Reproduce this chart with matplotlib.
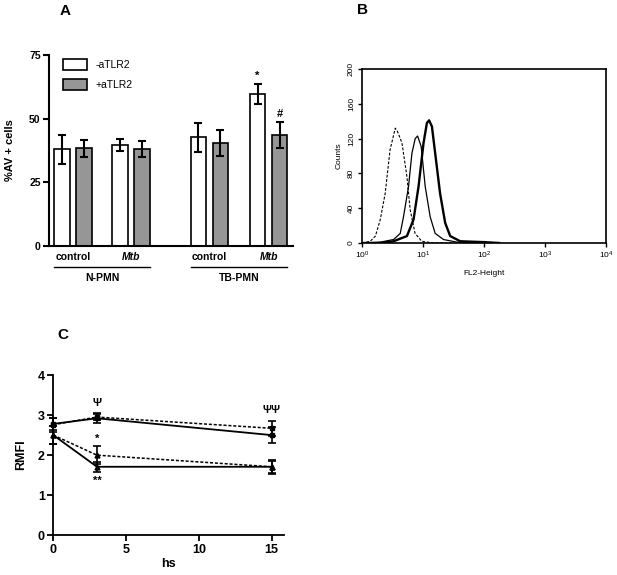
import numpy as np
import matplotlib
matplotlib.use("Agg")
import matplotlib.pyplot as plt
from matplotlib.patches import Rectangle
from matplotlib.ticker import FixedLocator, NullLocator

plt.rcParams['font.family'] = ['Liberation Sans', 'DejaVu Sans']
plt.rcParams['mathtext.fontset'] = 'custom'
plt.rcParams['mathtext.rm'] = 'Liberation Sans'
plt.rcParams['mathtext.it'] = 'Liberation Sans:italic'
plt.rcParams['mathtext.bf'] = 'Liberation Sans:bold'

# ---------------- data ----------------
# Panel A
groups = ["N-PMN", "TB-PMN"]
conditions = ["control", "Mtb", "control", "Mtb"]
series_labels = ["-aTLR2", "+aTLR2"]
minus_atlr2 = [38.0, 39.7, 42.7, 59.7]
minus_atlr2_err = [5.7, 2.3, 5.7, 4.1]
plus_atlr2 = [38.3, 38.2, 40.6, 43.5]
plus_atlr2_err = [3.2, 3.2, 5.1, 5.2]
sig_a = ["*", "#"]
sig_a_y = [67.0, 52.0]

# Panel B (log10 FL2-Height, counts)
dashed_log = [0.0, 0.136, 0.22, 0.30, 0.38, 0.46, 0.545, 0.583, 0.655, 0.737, 0.79, 0.87, 0.98, 1.17, 1.5]
dashed_cnt = [0, 2, 8, 27, 57, 107, 132, 128, 115, 76, 38, 11, 2, 0, 0]
thin_log = [0.0, 0.3, 0.518, 0.627, 0.68, 0.763, 0.818, 0.872, 0.911, 0.97, 1.036, 1.118, 1.2, 1.336, 1.555, 2.0]
thin_cnt = [0, 1, 4, 11, 30, 65, 103, 120, 123, 111, 65, 30, 11, 4, 1, 0]
thick_log = [0.0, 0.3, 0.518, 0.737, 0.845, 0.927, 1.009, 1.064, 1.10, 1.146, 1.2, 1.28, 1.364, 1.446, 1.61, 2.0, 2.25]
thick_cnt = [0, 0, 2, 8, 27, 65, 115, 138, 141, 134, 103, 57, 23, 8, 2, 1, 0]

# Panel C
hours = [0, 3, 15]
solid_sq = [2.78, 2.92, 2.50]
solid_sq_err = [0.15, 0.13, 0.19]
dash_sq = [2.76, 2.95, 2.67]
dash_sq_err = [0.17, 0.08, 0.19]
dash_tri = [2.50, 2.00, 1.71]
dash_tri_err = [0.23, 0.22, 0.15]
solid_tri = [2.50, 1.71, 1.71]
solid_tri_err = [0.23, 0.13, 0.17]
sig_c = ["Ψ", "ΨΨ", "*", "**"]
sig_c_x = [3, 15, 3, 3]
sig_c_y = [3.29, 3.12, 2.40, 1.36]

# ---------------- figure ----------------
W, H = 617, 575
fig = plt.figure(figsize=(W / 100, H / 100), dpi=100)


def rect(l, t, r, b):
    return [l / W, 1 - b / H, (r - l) / W, (b - t) / H]


def fx(px):
    return px / W


def fy(py):
    return 1 - py / H


# ---------------- Panel A ----------------
axA = fig.add_axes(rect(49, 55, 293, 246))
centers = np.array([0.0, 1.0, 2.35, 3.37])
off = 0.19
bw = 0.27
gray = '#969696'
axA.bar(centers - off, minus_atlr2, bw, color='white', edgecolor='black', linewidth=1.2, zorder=2)
axA.bar(centers + off, plus_atlr2, bw, color=gray, edgecolor='black', linewidth=1.2, zorder=2)
axA.errorbar(centers - off, minus_atlr2, yerr=minus_atlr2_err, fmt='none', ecolor='black',
             elinewidth=1.5, capsize=3, capthick=1.5, zorder=3)
axA.errorbar(centers + off, plus_atlr2, yerr=plus_atlr2_err, fmt='none', ecolor='black',
             elinewidth=1.5, capsize=3, capthick=1.5, zorder=3)
axA.set_xlim(-0.414, 3.79)
axA.set_ylim(0, 75)
axA.set_yticks([0, 25, 50, 75])
axA.set_xticks([])
for s in ['top', 'right']:
    axA.spines[s].set_visible(False)
for s in ['left', 'bottom']:
    axA.spines[s].set_linewidth(1.5)
axA.tick_params(axis='y', direction='out', length=4, width=1.5, labelsize=7.5, pad=2)
for lab in axA.get_yticklabels():
    lab.set_fontweight('bold')
axA.set_ylabel("%AV + cells", fontsize=8, fontweight='bold', labelpad=10)

axA.text(centers[3] - off, sig_a_y[0], sig_a[0], ha='center', va='center', fontsize=8, fontweight='bold')
axA.text(centers[3] + off, sig_a_y[1], sig_a[1], ha='center', va='center', fontsize=8, fontweight='bold')

tr = axA.get_xaxis_transform()
axfrac = lambda py: (246 - py) / 191.0
for c, name in zip(centers, conditions):
    style = 'italic' if name == 'Mtb' else 'normal'
    axA.text(c, axfrac(257), name, transform=tr, ha='center', va='center', fontsize=7.5,
             fontweight='bold', fontstyle=style, clip_on=False)
for gi, g in enumerate(groups):
    x0 = centers[2 * gi] - off - bw / 2
    x1 = centers[2 * gi + 1] + off + bw / 2
    axA.plot([x0, x1], [axfrac(267), axfrac(267)], transform=tr, color='black', lw=1.0, clip_on=False)
    axA.text((x0 + x1) / 2, axfrac(278), g, transform=tr, ha='center', va='center', fontsize=7.5,
             fontweight='bold', clip_on=False)

# legend (manual)
for i, (lab, col) in enumerate(zip(series_labels, ['white', gray])):
    top = 59 + 20 * i
    axA.add_patch(Rectangle(((63 - 49) / 244, axfrac(top + 11)), 24 / 244, 11 / 191,
                            transform=axA.transAxes, facecolor=col, edgecolor='black', lw=1.2,
                            clip_on=False))
    axA.text((96 - 49) / 244, axfrac(top + 5.5), lab, transform=axA.transAxes, ha='left', va='center',
             fontsize=7.5)

fig.text(fx(65), fy(11), "A", fontsize=11, fontweight='bold', ha='center', va='center')

# ---------------- Panel B ----------------
axB = fig.add_axes(rect(362, 69, 606, 243))
axB.plot(10 ** np.array(dashed_log), dashed_cnt, color='black', lw=0.8, ls=(0, (2.5, 1.5)))
axB.plot(10 ** np.array(thin_log), thin_cnt, color='black', lw=0.9)
axB.plot(10 ** np.array(thick_log), thick_cnt, color='black', lw=1.7)
axB.set_xscale('log')
axB.set_xlim(1, 1e4)
axB.set_ylim(0, 200)
axB.set_yticks([0, 40, 80, 120, 160, 200])
axB.xaxis.set_major_locator(FixedLocator([1, 10, 100, 1000, 10000]))
axB.xaxis.set_minor_locator(NullLocator())
for s in axB.spines.values():
    s.set_linewidth(1.2)
axB.tick_params(direction='out', length=3, width=1, labelsize=6, pad=2)
for lab in axB.get_yticklabels():
    lab.set_rotation(90)
    lab.set_va('center')
axB.set_ylabel("Counts", fontsize=6, labelpad=4)
axB.set_xlabel("FL2-Height", fontsize=6, labelpad=6)
fig.text(fx(363), fy(10), "B", fontsize=11, fontweight='bold', ha='center', va='center')

# ---------------- Panel C ----------------
axC = fig.add_axes(rect(53.3, 375, 284, 535.3))
axC.set_xlim(0, 15.85)
axC.set_ylim(0, 4)
ekw = dict(ecolor='black', elinewidth=1.2, capsize=3, capthick=1.2, clip_on=False)
axC.errorbar(hours, dash_sq, yerr=dash_sq_err, color='black', lw=1.1, ls=(0, (2, 1.2)),
             marker='s', ms=3.5, **ekw)
axC.errorbar(hours, solid_sq, yerr=solid_sq_err, color='black', lw=1.3, ls='-',
             marker='s', ms=3.5, **ekw)
axC.errorbar(hours, dash_tri, yerr=dash_tri_err, color='black', lw=1.1, ls=(0, (2, 1.2)),
             marker='^', ms=3.5, **ekw)
axC.errorbar(hours, solid_tri, yerr=solid_tri_err, color='black', lw=1.3, ls='-',
             marker='^', ms=3.5, **ekw)
for t, x, y in zip(sig_c, sig_c_x, sig_c_y):
    axC.text(x, y, t, ha='center', va='center', fontsize=8, fontweight='bold')
axC.set_xticks([0, 5, 10, 15])
axC.set_yticks([0, 1, 2, 3, 4])
for s in ['top', 'right']:
    axC.spines[s].set_visible(False)
for s in ['left', 'bottom']:
    axC.spines[s].set_linewidth(1.3)
axC.tick_params(direction='out', length=4, width=1.3, labelsize=9, pad=2)
for lab in axC.get_xticklabels() + axC.get_yticklabels():
    lab.set_fontweight('bold')
axC.set_ylabel("RMFI", fontsize=9, fontweight='bold', labelpad=8)
axC.set_xlabel("hs", fontsize=9, fontweight='bold', labelpad=2)
fig.text(fx(63), fy(335), "C", fontsize=11, fontweight='bold', ha='center', va='center')

fig.savefig("out.png", dpi=100)
